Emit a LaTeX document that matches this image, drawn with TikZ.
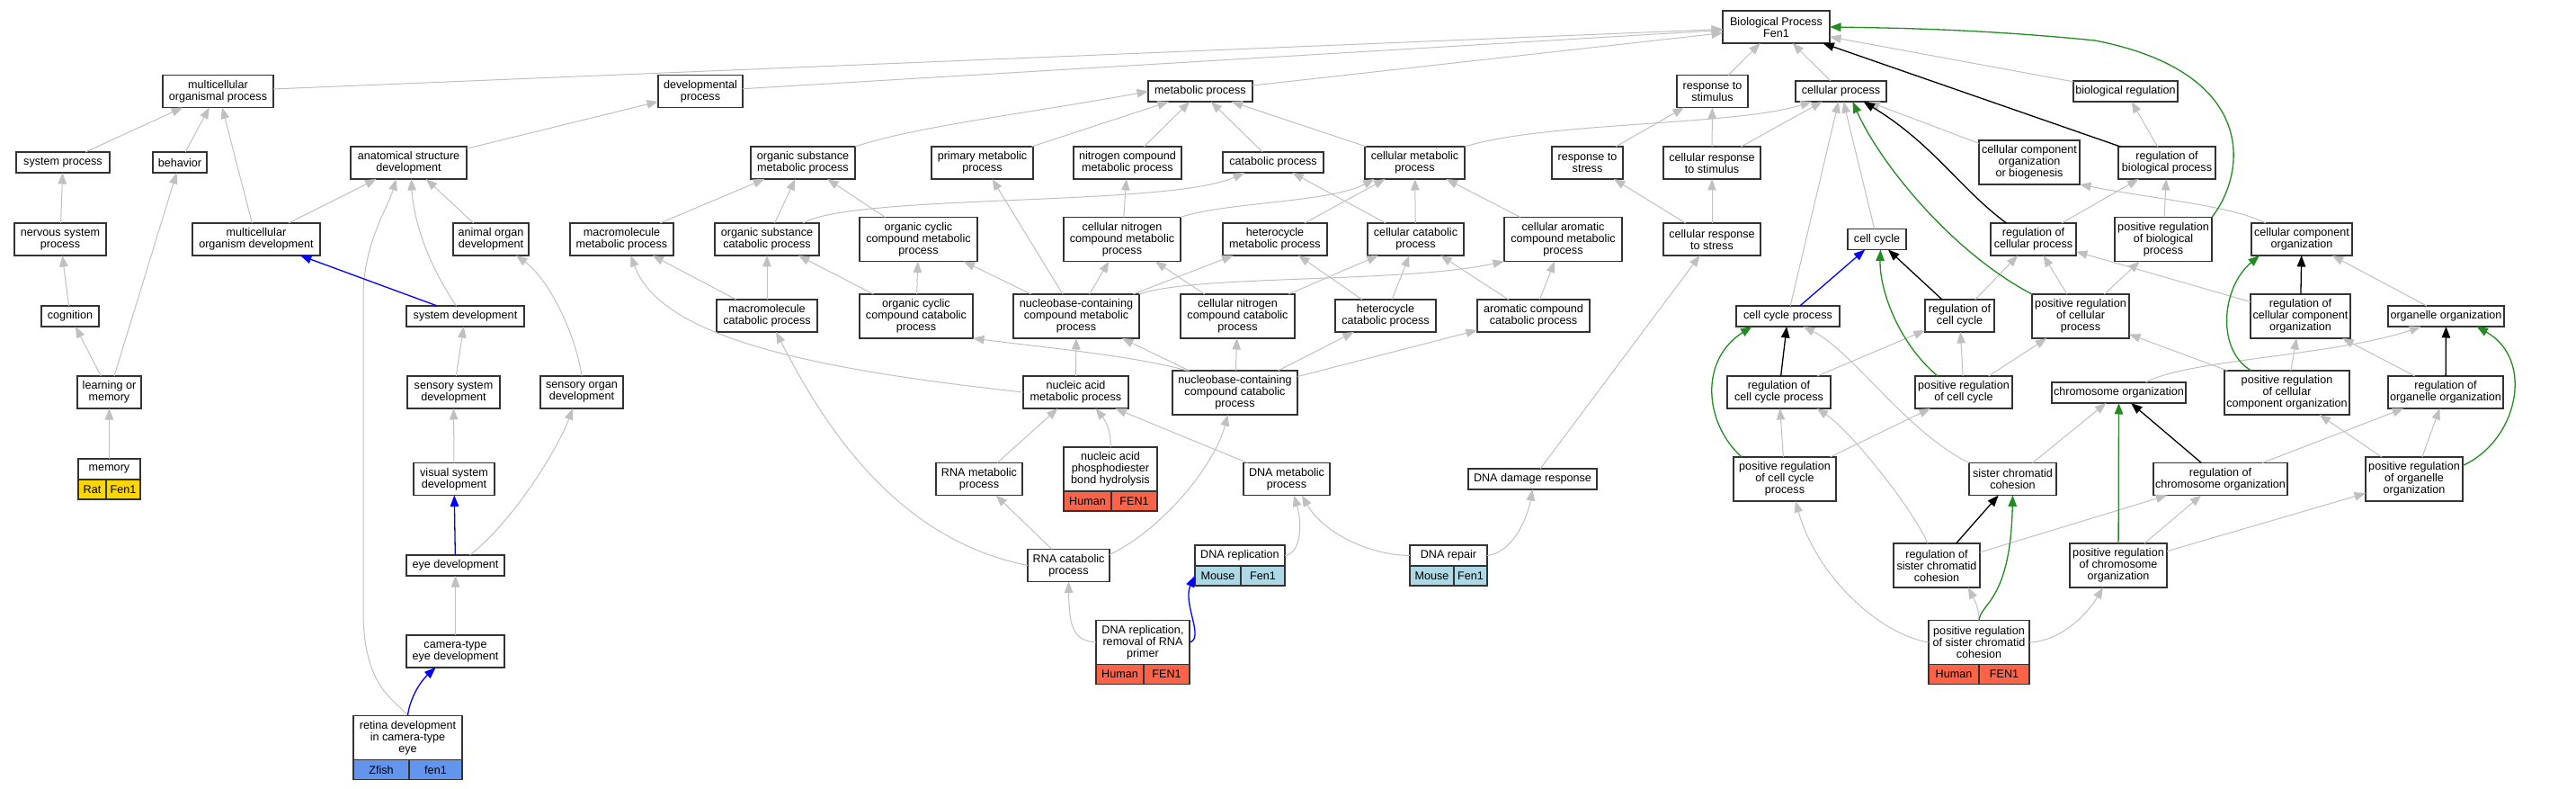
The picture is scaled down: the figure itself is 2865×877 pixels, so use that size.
\documentclass[tikz,border=0pt]{standalone}
\usepackage{fontspec}
\setmainfont{Liberation Sans}
\usetikzlibrary{arrows.meta}
\definecolor{edgegray}{RGB}{192,192,192}
\definecolor{posgreen}{RGB}{34,139,34}
\definecolor{rat}{RGB}{255,215,0}
\definecolor{human}{RGB}{255,99,71}
\definecolor{mouse}{RGB}{173,216,230}
\definecolor{zfish}{RGB}{100,149,237}

\begin{document}
\begin{tikzpicture}
[
  x=1pt, y=-1pt,
	term/.style={draw=black!80,line width=1.4pt,fill=white,align=center,inner xsep=1pt,inner ysep=0pt,outer sep=0pt,font=\fontsize{12.6}{13}\selectfont},
	l1/.style={term,minimum height=23pt},
	l2/.style={term,minimum height=36pt},
	l3/.style={term,minimum height=49pt},
	cell/.style={draw=black!80,line width=1.4pt,inner sep=0pt,outer sep=0pt,minimum height=22pt,anchor=north west,font=\fontsize{12.6}{13}\selectfont},
	isa/.style={draw=edgegray,line width=1pt,-{Triangle[length=12.5pt,width=9.5pt]}},
	partof/.style={isa,draw=blue,line width=1.3pt},
	reg/.style={isa,draw=black,line width=1.3pt},
	posreg/.style={isa,draw=posgreen,line width=1.3pt}
]
\useasboundingbox (0,0) rectangle (2865,877);

% root
\node[l2,minimum width=119pt] (bp) at (1975.5,30) {Biological Process\\Fen1};

% second rank
\node[l2,minimum width=123pt] (mop) at (242.5,101.5) {multicellular\\organismal process};
\node[l2,minimum width=94pt] (devp) at (779,101.5) {developmental\\process};
\node[l1,minimum width=116pt] (metp) at (1335,101.5) {metabolic process};
\node[l2,minimum width=79pt] (rstim) at (1904.5,101.5) {response to\\stimulus};
\node[l1,minimum width=101pt] (cellp) at (2047.5,101.5) {cellular process};
\node[l1,minimum width=116pt] (bioreg) at (2364,101.5) {biological regulation};

% third rank
\node[l1,minimum width=104pt] (sysp) at (70,180.5) {system process};
\node[l1,minimum width=60pt] (behav) at (200,180.5) {behavior};
\node[l2,minimum width=129pt] (asd) at (454.5,181) {anatomical structure\\development};
\node[l2,minimum width=116pt] (osmp) at (893,181) {organic substance\\metabolic process};
\node[l2,minimum width=113pt] (primp) at (1092.5,181) {primary metabolic\\process};
\node[l2,minimum width=120pt] (ncmp) at (1254,181) {nitrogen compound\\metabolic process};
\node[l1,minimum width=112pt] (catp) at (1416,180.5) {catabolic process};
\node[l2,minimum width=111pt] (cmp) at (1573.5,181) {cellular metabolic\\process};
\node[l2,minimum width=79pt] (rstress) at (1765.5,181) {response to\\stress};
\node[l2,minimum width=108pt] (crstim) at (1904,181) {cellular response\\to stimulus};
\node[l3,minimum width=112pt] (ccob) at (2257,180.5) {cellular component\\organization\\or biogenesis};
\node[l2,minimum width=108pt] (rbp) at (2410,181) {regulation of\\biological process};

% fourth rank
\node[l2,minimum width=102pt] (nsp) at (67,266) {nervous system\\process};
\node[l2,minimum width=142pt] (mod) at (285,266) {multicellular\\organism development};
\node[l2,minimum width=84pt] (aod) at (546,266) {animal organ\\development};
\node[l2,minimum width=115pt] (mmp) at (691.5,266) {macromolecule\\metabolic process};
\node[l2,minimum width=116pt] (oscp) at (853,266) {organic substance\\catabolic process};
\node[l3,minimum width=131pt] (occmp) at (1021.5,266) {organic cyclic\\compound metabolic\\process};
\node[l3,minimum width=130pt] (cncmp) at (1248,266) {cellular nitrogen\\compound metabolic\\process};
\node[l2,minimum width=116pt] (hmp) at (1418,266) {heterocycle\\metabolic process};
\node[l2,minimum width=107pt] (ccatp) at (1574.5,266) {cellular catabolic\\process};
\node[l3,minimum width=131pt] (cacmp) at (1738.5,266) {cellular aromatic\\compound metabolic\\process};
\node[l2,minimum width=108pt] (crstress) at (1904,266) {cellular response\\to stress};
\node[l1,minimum width=65pt] (cc) at (2087.5,266) {cell cycle};
\node[l2,minimum width=95pt] (rcp) at (2261.5,266) {regulation of\\cellular process};
\node[l3,minimum width=108pt] (prbp) at (2406,266) {positive regulation\\of biological\\process};
\node[l2,minimum width=112pt] (cco) at (2560,266) {cellular component\\organization};

% fifth rank
\node[l1,minimum width=64pt] (cogn) at (78,351.5) {cognition};
\node[l1,minimum width=131pt] (sysdev) at (517.5,351.5) {system development};
\node[l2,minimum width=112pt] (mcp) at (853,351) {macromolecule\\catabolic process};
\node[l3,minimum width=126pt] (occcp) at (1019,351.5) {organic cyclic\\compound catabolic\\process};
\node[l3,minimum width=140pt] (nccmp) at (1197,351.5) {nucleobase-containing\\compound metabolic\\process};
\node[l3,minimum width=127pt] (cnccp) at (1376.5,351.5) {cellular nitrogen\\compound catabolic\\process};
\node[l2,minimum width=112pt] (hcp) at (1541,351) {heterocycle\\catabolic process};
\node[l2,minimum width=125pt] (accp) at (1705.5,351) {aromatic compound\\catabolic process};
\node[l1,minimum width=115pt] (ccp) at (1988.5,351.5) {cell cycle process};
\node[l2,minimum width=77pt] (rcc) at (2179.5,351) {regulation of\\cell cycle};
\node[l3,minimum width=108pt] (prcp) at (2314,351.5) {positive regulation\\of cellular\\process};
\node[l3,minimum width=111pt] (rcco) at (2558.5,351.5) {regulation of\\cellular component\\organization};
\node[l1,minimum width=129pt] (orgo) at (2720.5,351.5) {organelle organization};

% sixth rank
\node[l2,minimum width=71pt] (lom) at (121.5,436) {learning or\\memory};
\node[l2,minimum width=103pt] (ssd) at (504.5,436) {sensory system\\development};
\node[l2,minimum width=92pt] (sod) at (647,436) {sensory organ\\development};
\node[l2,minimum width=117pt] (namp) at (1196.5,436) {nucleic acid\\metabolic process};
\node[l3,minimum width=139pt] (ncccp) at (1373.5,436.5) {nucleobase-containing\\compound catabolic\\process};
\node[l2,minimum width=115pt] (rccp) at (1978.5,436) {regulation of\\cell cycle process};
\node[l2,minimum width=108pt] (prcc) at (2184,436) {positive regulation\\of cell cycle};
\node[l1,minimum width=149pt] (chromo) at (2356.5,436.5) {chromosome organization};
\node[l3,minimum width=139pt] (prcco) at (2543.5,436.5) {positive regulation\\of cellular\\component organization};
\node[l2,minimum width=128pt] (roo) at (2720,436) {regulation of\\organelle organization};

% seventh rank
\node[l2,minimum width=90pt] (vsd) at (505,532.5) {visual system\\development};
\node[l2,minimum width=96pt] (rnamp) at (1089,532.5) {RNA metabolic\\process};
\node[l2,minimum width=96pt] (dnamp) at (1431,532.5) {DNA metabolic\\process};
\node[l1,minimum width=143pt] (ddr) at (1704.5,532.5) {DNA damage response};
\node[l3,minimum width=114pt] (prccp) at (1985,532.5) {positive regulation\\of cell cycle\\process};
\node[l2,minimum width=97pt] (scc) at (2238.5,532.5) {sister chromatid\\cohesion};
\node[l2,minimum width=149pt] (rco) at (2469.5,532.5) {regulation of\\chromosome organization};
\node[l3,minimum width=108pt] (proo) at (2685,532.5) {positive regulation\\of organelle\\organization};

% lower ranks
\node[l1,minimum width=109pt] (eyed) at (506.5,628.5) {eye development};
\node[l2,minimum width=91pt] (rnacp) at (1188.5,628.5) {RNA catabolic\\process};
\node[l3,minimum width=96pt] (rscc) at (2154,628.5) {regulation of\\sister chromatid\\cohesion};
\node[l3,minimum width=108pt] (prco) at (2356,628.5) {positive regulation\\of chromosome\\organization};
\node[l2,minimum width=109pt] (cted) at (506.5,724) {camera-type\\eye development};

% annotated terms
\node[l1,minimum width=69pt] (memory) at (121.5,521.5) {memory};
\node[cell,fill=rat,minimum width=31pt] (memoryA) at (memory.south west) {Rat};
\node[cell,fill=rat,minimum width=38pt] (memoryB) at (memoryA.north east) {Fen1};

\node[l3,minimum width=104pt] (napbh) at (1235,521.5) {nucleic acid\\phosphodiester\\bond hydrolysis};
\node[cell,fill=human,minimum width=53pt] (napbhA) at (napbh.south west) {Human};
\node[cell,fill=human,minimum width=51pt] (napbhB) at (napbhA.north east) {FEN1};

\node[l1,minimum width=100pt] (dnarep) at (1379,617.5) {DNA replication};
\node[cell,fill=mouse,minimum width=51pt] (dnarepA) at (dnarep.south west) {Mouse};
\node[cell,fill=mouse,minimum width=49pt] (dnarepB) at (dnarepA.north east) {Fen1};

\node[l1,minimum width=86pt] (dnarepair) at (1611,617.5) {DNA repair};
\node[cell,fill=mouse,minimum width=49pt] (dnarepairA) at (dnarepair.south west) {Mouse};
\node[cell,fill=mouse,minimum width=37pt] (dnarepairB) at (dnarepairA.north east) {Fen1};

\node[l3,minimum width=104pt] (dnarr) at (1271,714) {DNA replication,\\removal of RNA\\primer};
\node[cell,fill=human,minimum width=53pt] (dnarrA) at (dnarr.south west) {Human};
\node[cell,fill=human,minimum width=51pt] (dnarrB) at (dnarrA.north east) {FEN1};

\node[l3,minimum width=112pt] (prscc) at (2201,714) {positive regulation\\of sister chromatid\\cohesion};
\node[cell,fill=human,minimum width=56pt] (prsccA) at (prscc.south west) {Human};
\node[cell,fill=human,minimum width=56pt] (prsccB) at (prsccA.north east) {FEN1};

\node[l3,minimum width=121pt] (retina) at (453.5,820) {retina development\\in camera-type\\eye};
\node[cell,fill=zfish,minimum width=62pt] (retinaA) at (retina.south west) {Zfish};
\node[cell,fill=zfish,minimum width=59pt] (retinaB) at (retinaA.north east) {fen1};

% is_a
\draw[isa] (mop) -- (bp);
\draw[isa] (devp) -- (bp);
\draw[isa] (metp) -- (bp);
\draw[isa] (rstim) -- (bp);
\draw[isa] (cellp) -- (bp);
\draw[isa] (bioreg) -- (bp);
\draw[isa] (sysp) -- (mop);
\draw[isa] (behav) -- (mop);
\draw[isa] (mod) -- (mop);
\draw[isa] (asd) -- (devp);
\draw[isa] (osmp.north east) .. controls (1020,140) and (1150,125) .. (metp.west);
\draw[isa] (primp) -- (metp);
\draw[isa] (ncmp) -- (metp);
\draw[isa] (catp) -- (metp);
\draw[isa] (cmp) -- (metp);
\draw[isa] (rstress) -- (rstim);
\draw[isa] (crstim) -- (rstim);
\draw[isa] (crstim) -- (cellp);
\draw[isa] (cmp.north east) .. controls (1720,135) and (1930,140) .. ([xshift=18pt]cellp.south west);
\draw[isa] (ccp) -- (cellp);
\draw[isa] (cc) -- (cellp);
\draw[isa] (ccob) -- (cellp);
\draw[isa] (rbp) -- (bioreg);

\draw[isa] (nsp) -- (sysp);
\draw[isa] (cogn) -- (nsp);
\draw[isa] (lom) -- (cogn);
\draw[isa] (lom) -- (behav);
\draw[isa] (memory) -- (lom);
\draw[isa] (mod) -- (asd);
\draw[isa] (aod) -- (asd);
\draw[isa] ([xshift=-10pt]sysdev.north) .. controls (480,300) and (460,250) .. ([xshift=3pt]asd.south);
\draw[isa] (ssd) -- (sysdev);
\draw[isa] (sod.north) .. controls (640,370) and (610,310) .. ([xshift=28pt]aod.south);
\draw[isa] (vsd) -- (ssd);
\draw[isa] ([xshift=16pt]eyed.north) .. controls (570,580) and (620,500) .. ([xshift=-10pt]sod.south);
\draw[isa] (cted) -- (eyed);
\draw[isa] (retina.north) .. controls (440,778) and (404,765) .. (404,680) -- (404,330) .. controls (404,270) and (432,230) .. ([xshift=-14pt]asd.south);

\draw[isa] (mmp) -- (osmp);
\draw[isa] (oscp) -- (osmp);
\draw[isa] (occmp) -- (osmp);
\draw[isa] ([xshift=-18pt]oscp.north east) .. controls (950,215) and (1300,230) .. ([xshift=-32pt]catp.south);
\draw[isa] (cncmp) -- (ncmp);
\draw[isa] (cncmp.north east) .. controls (1360,225) and (1480,225) .. ([xshift=-45pt]cmp.south);
\draw[isa] (hmp) -- (cmp);
\draw[isa] (ccatp) -- (cmp);
\draw[isa] (cacmp) -- (cmp);
\draw[isa] (ccatp) -- (catp);
\draw[isa] (mcp) -- (mmp);
\draw[isa] (mcp) -- (oscp);
\draw[isa] (occcp) -- (occmp);
\draw[isa] (occcp) -- (oscp);
\draw[isa] (nccmp) -- (occmp);
\draw[isa] (nccmp) -- (primp);
\draw[isa] (nccmp) -- (cncmp);
\draw[isa] (nccmp) -- (hmp);
\draw[isa] (nccmp.north east) .. controls (1330,305) and (1560,315) .. (cacmp.south west);
\draw[isa] (cnccp) -- (cncmp);
\draw[isa] (cnccp) -- (ccatp);
\draw[isa] (hcp) -- (hmp);
\draw[isa] (hcp) -- (ccatp);
\draw[isa] (accp) -- (ccatp);
\draw[isa] (accp) -- (cacmp);
\draw[isa] (namp.west) .. controls (900,410) and (735,375) .. ([xshift=10pt]mmp.south);
\draw[isa] (namp) -- (nccmp);
\draw[isa] ([xshift=-53pt]ncccp.north) .. controls (1260,395) and (1150,385) .. (occcp.south east);
\draw[isa] (ncccp) -- (nccmp);
\draw[isa] (ncccp) -- (cnccp);
\draw[isa] (ncccp) -- (hcp);
\draw[isa] (ncccp) -- (accp);
\draw[isa] (rnamp) -- (namp);
\draw[isa] (napbh.north) .. controls (1236,480) and (1230,468) .. ([xshift=22pt]namp.south);
\draw[isa] (dnamp) -- (namp);
\draw[isa] (rnacp) -- (rnamp);
\draw[isa] (rnacp.west) .. controls (1000,600) and (920,480) .. ([xshift=10pt]mcp.south);
\draw[isa] ([yshift=12pt]rnacp.east) .. controls (1290,590) and (1350,520) .. ([xshift=-8pt]ncccp.south);
\draw[isa] (dnarr.west) .. controls (1195,712) and (1189,700) .. (rnacp.south);
\draw[isa] (dnarep.east) .. controls (1448,615) and (1448,580) .. ([xshift=8pt]dnamp.south);
\draw[isa] (dnarepair.west) .. controls (1520,617) and (1470,590) .. ([xshift=17pt]dnamp.south);
\draw[isa] (dnarepair.east) .. controls (1680,615) and (1698,580) .. (ddr.south);
\draw[isa] (ddr) -- (crstress);
\draw[isa] (crstress) -- (rstress);
\draw[isa] (crstress) -- (crstim);

\draw[isa] (rccp) -- (rcc);
\draw[isa] (prccp) -- (rccp);
\draw[isa] (prccp) -- (prcc);
\draw[isa] (scc.north west) .. controls (2120,480) and (2060,390) .. ([xshift=17pt]ccp.south);
\draw[isa] ([xshift=-10pt]rscc.north) .. controls (2130,570) and (2060,480) .. ([xshift=42pt]rccp.south);
\draw[isa] (prscc.west) .. controls (2090,705) and (2020,640) .. ([xshift=12pt]prccp.south);
\draw[isa] (prscc.north) .. controls (2201,675) and (2195,665) .. ([xshift=35pt]rscc.south);
\draw[isa] (prscc.east) .. controls (2290,713) and (2320,685) .. ([xshift=-17pt]prco.south);
\draw[isa] (rcc) -- (rcp);
\draw[isa] (prcc) -- (rcc);
\draw[isa] (prcc) -- (prcp);
\draw[isa] (rcp) -- (rbp);
\draw[isa] (prbp) -- (rbp);
\draw[isa] (prcp) -- (rcp);
\draw[isa] (prcp) -- (prbp);
\draw[isa] (rcco) -- (rcp);
\draw[isa] ([xshift=16pt]cco.north west) .. controls (2480,228) and (2400,222) .. (ccob.south east);
\draw[isa] (orgo) -- (cco);
\draw[isa] (prcco) -- (rcco);
\draw[isa] (prcco) -- (prcp);
\draw[isa] (roo) -- (rcco);
\draw[isa] ([xshift=30pt]chromo.north) .. controls (2430,400) and (2600,395) .. ([xshift=-28pt]orgo.south);
\draw[isa] (scc) -- (chromo);
\draw[isa] (rscc) -- (rco);
\draw[isa] (prco) -- (rco);
\draw[isa] (prco) -- (proo);
\draw[isa] (rco) -- (roo);
\draw[isa] (proo) -- (prcco);
\draw[isa] (proo) -- (roo);

% part_of
\draw[partof] (sysdev) -- (mod);
\draw[partof] (eyed) -- (vsd);
\draw[partof] (retina.north) .. controls (455,780) and (465,760) .. ([xshift=-22pt]cted.south);
\draw[partof] (ccp) -- (cc);
\draw[partof] (dnarr.east) .. controls (1340,710) and (1315,670) .. (dnarepA.west);

% regulates
\draw[reg] (rbp) -- (bp);
\draw[reg] ([xshift=-30pt]rcp.north) .. controls (2180,210) and (2150,160) .. ([xshift=25pt]cellp.south);
\draw[reg] (rcc) -- (cc);
\draw[reg] (rccp) -- (ccp);
\draw[reg] (rcco) -- (cco);
\draw[reg] (roo) -- (orgo);
\draw[reg] (rco) -- (chromo);
\draw[reg] (rscc) -- (scc);

% positively regulates
\draw[posreg] (prbp.north east) .. controls (2500,190) and (2510,80) .. (2330,45) .. controls (2200,32) and (2100,31) .. (bp.east);
\draw[posreg] (prcp.north west) .. controls (2170,280) and (2090,180) .. ([xshift=13pt]cellp.south);
\draw[posreg] ([xshift=-29pt]prcc.north) .. controls (2110,380) and (2090,320) .. ([xshift=4pt]cc.south);
\draw[posreg] ([xshift=9pt]prccp.north west) .. controls (1895,470) and (1890,400) .. ([xshift=-40pt]ccp.south);
\draw[posreg] ([xshift=30pt]prcco.north west) .. controls (2465,390) and (2470,320) .. ([xshift=9pt]cco.south west);
\draw[posreg] ([yshift=15pt]proo.east) .. controls (2800,490) and (2820,400) .. ([xshift=34pt]orgo.south);
\draw[posreg] (prco) -- (chromo);
\draw[posreg] (prscc.north) .. controls (2203,670) and (2236,668) .. (scc.south);

\end{tikzpicture}
\end{document}
